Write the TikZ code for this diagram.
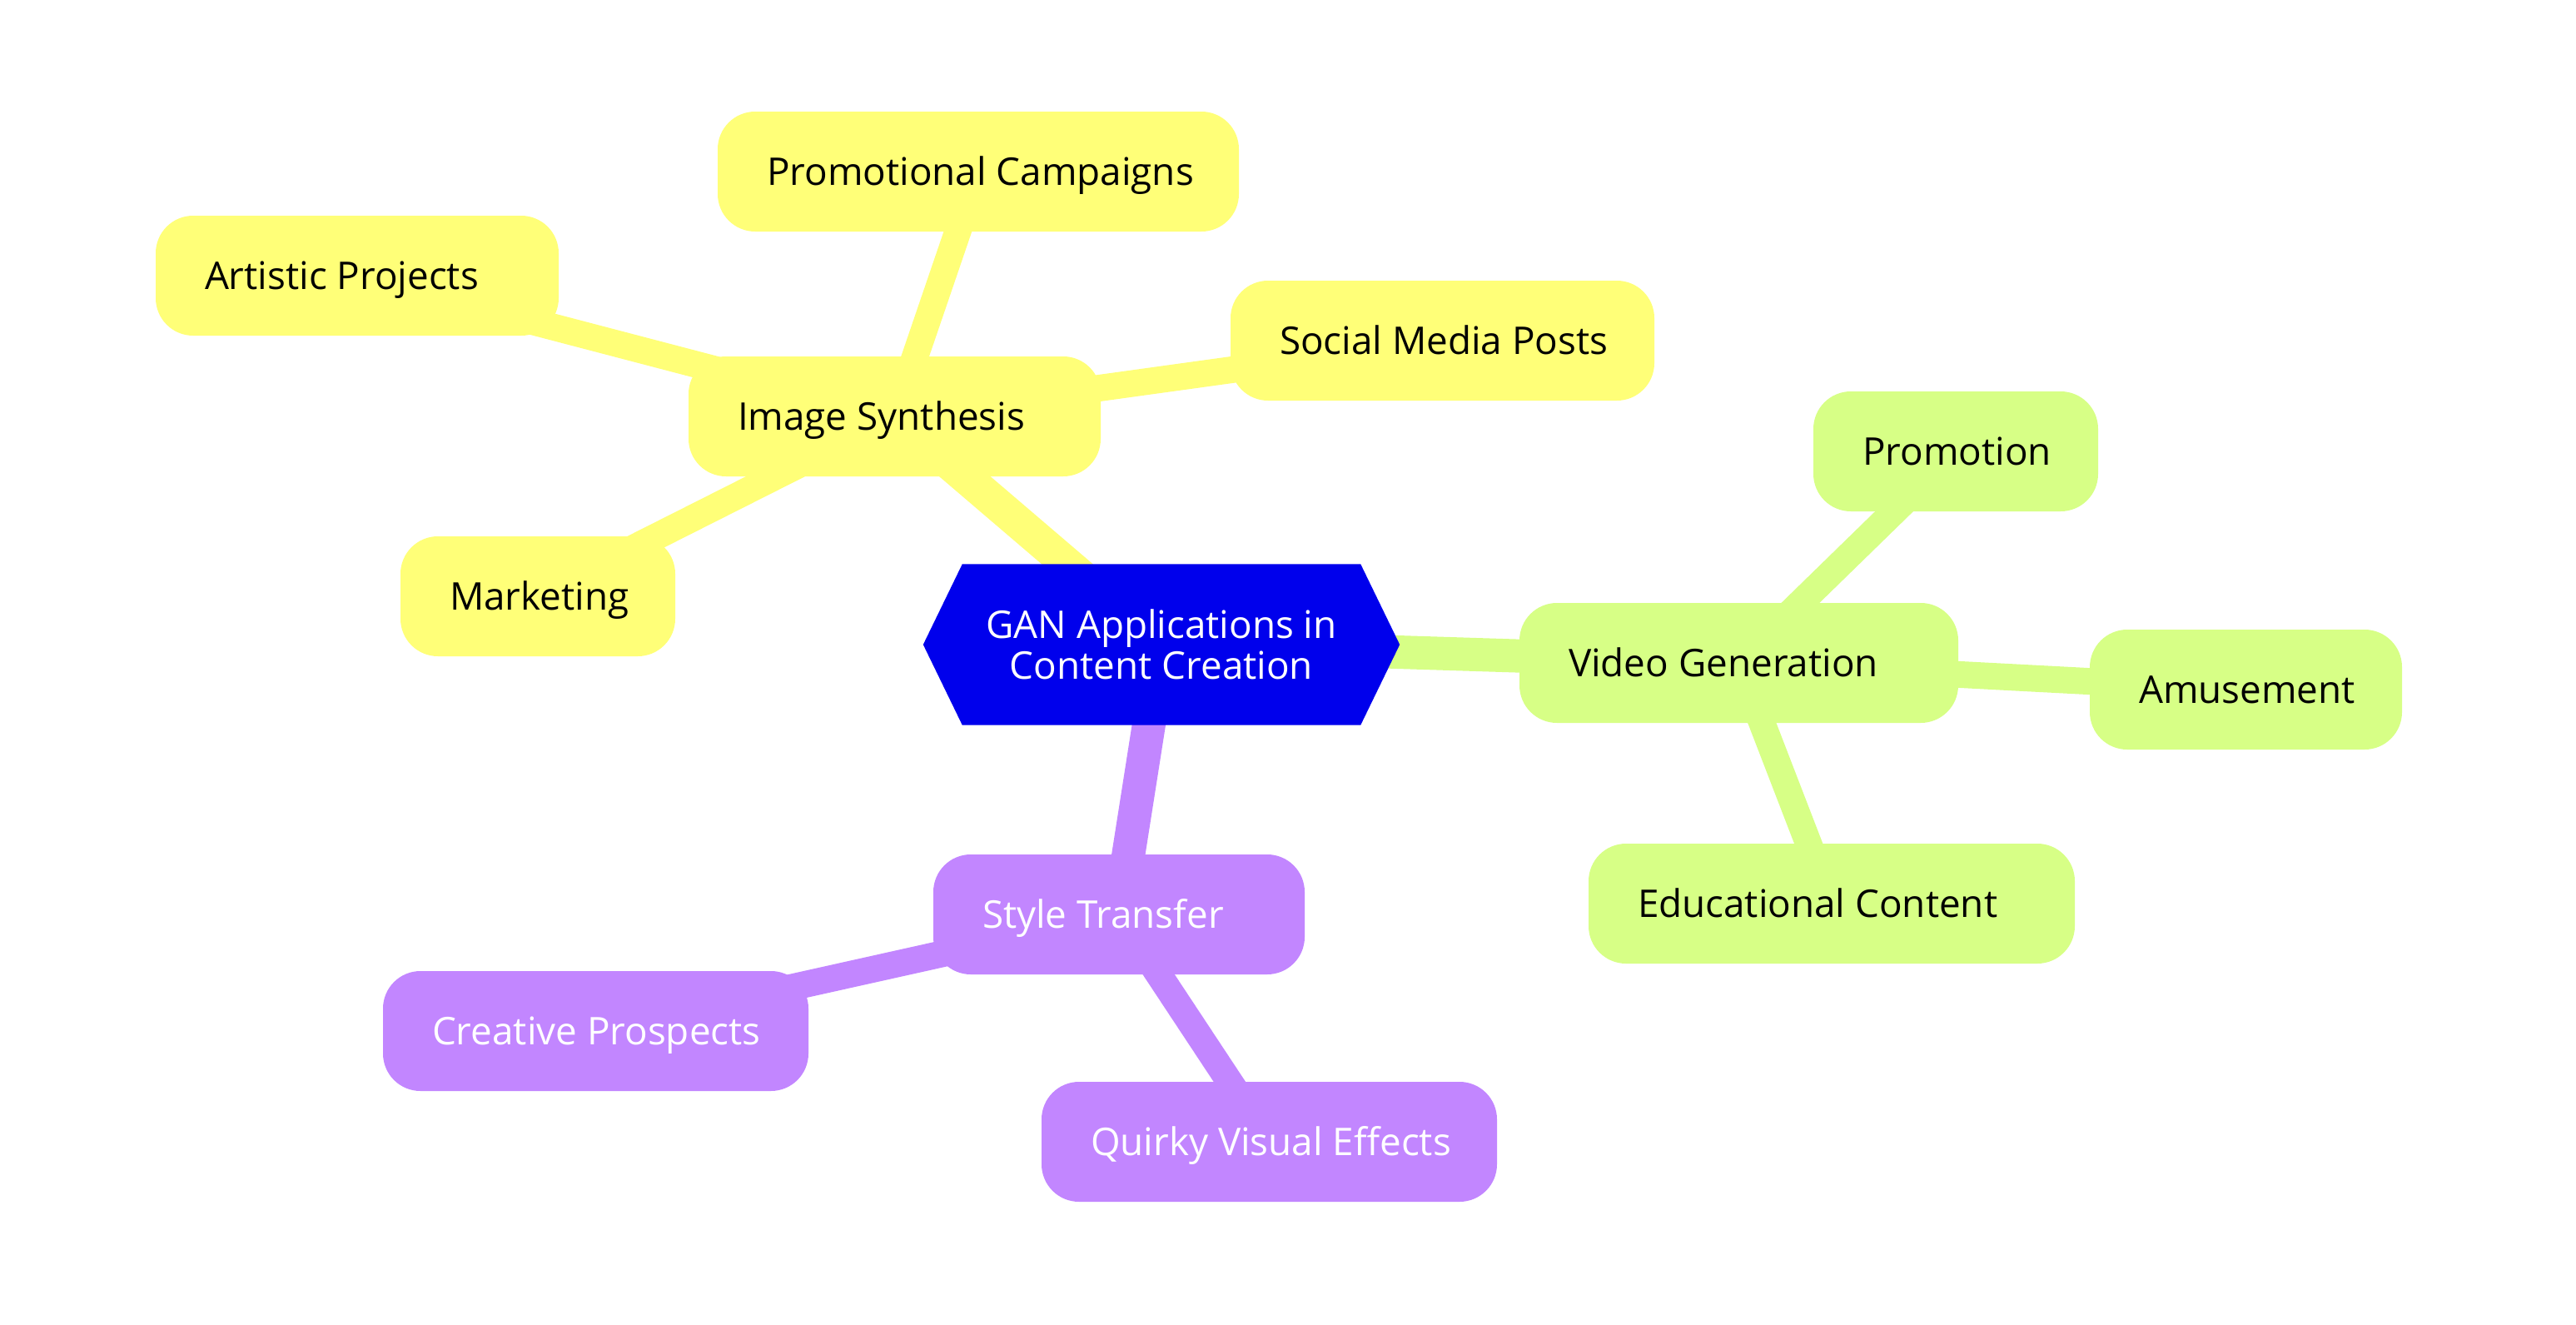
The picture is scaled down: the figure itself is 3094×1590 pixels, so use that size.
\documentclass[tikz,border=0pt]{standalone}
\usepackage{fontspec}
\setmainfont{Open Sans}
\usetikzlibrary{backgrounds,calc}
\definecolor{rootblue}{RGB}{0,0,236}
\definecolor{secyellow}{RGB}{255,255,120}
\definecolor{secgreen}{RGB}{215,255,134}
\definecolor{secpurple}{RGB}{194,134,255}
\newcommand{\lbx}[2]{\makebox[#1pt][l]{#2}}
\begin{document}
\begin{tikzpicture}[x=1pt,y=-1pt,
  mmnode/.style={rounded corners=45pt, minimum height=144pt, inner xsep=59pt, inner ysep=0pt,
    text height=33pt, text depth=0pt, font={\fontsize{45.8}{49}\selectfont}},
  ynode/.style={mmnode, fill=secyellow, text=black},
  gnode/.style={mmnode, fill=secgreen, text=black},
  pnode/.style={mmnode, fill=secpurple, text=white},
  mainedge/.style={line width=40pt},
  leafedge/.style={line width=32pt},
]
\useasboundingbox (0,0) rectangle (3094,1590);

\node[font={\fontsize{45.8}{49}\selectfont}, text=white, align=center,
      minimum width=572pt, minimum height=193pt, inner sep=0pt] (root) at (1395,774)
      {GAN Applications in\\Content Creation};

% Image Synthesis section
\node[ynode] (is)  at (1074.5,500) {\lbx{377}{Image Synthesis}};
\node[ynode] (pc)  at (1175,206)   {\lbx{508}{Promotional Campaigns}};
\node[ynode] (ap)  at (429,331)    {\lbx{366}{Artistic Projects}};
\node[ynode] (smp) at (1732.5,409) {\lbx{391}{Social Media Posts}};
\node[ynode] (mk)  at (646,716)    {\lbx{212}{Marketing}};

% Video Generation section
\node[gnode] (vg) at (2088.5,796) {\lbx{409}{Video Generation}};
\node[gnode] (pr) at (2349,542)   {\lbx{224}{Promotion}};
\node[gnode] (am) at (2697.5,828) {\lbx{257}{Amusement}};
\node[gnode] (ec) at (2200,1085)  {\lbx{466}{Educational Content}};

% Style Transfer section
\node[pnode] (st) at (1344,1098)   {\lbx{328}{Style Transfer}};
\node[pnode] (cp) at (715.5,1238)  {\lbx{393}{Creative Prospects}};
\node[pnode] (qv) at (1524.5,1371) {\lbx{429}{Quirky Visual Effects}};

\begin{scope}[on background layer]
  \draw[secyellow, mainedge] (root.center) -- (is.center);
  \draw[secyellow, leafedge] (is.center) -- (pc.center);
  \draw[secyellow, leafedge] (is.center) -- (ap.center);
  \draw[secyellow, leafedge] (is.center) -- (smp.center);
  \draw[secyellow, leafedge] (is.center) -- (mk.center);
  \draw[secgreen, mainedge] (root.center) -- (vg.center);
  \draw[secgreen, leafedge] (vg.center) -- (pr.center);
  \draw[secgreen, leafedge] (vg.center) -- (am.center);
  \draw[secgreen, leafedge] (vg.center) -- (ec.center);
  \draw[secpurple, mainedge] (root.center) -- (st.center);
  \draw[secpurple, leafedge] (st.center) -- (cp.center);
  \draw[secpurple, leafedge] (st.center) -- (qv.center);
  \fill[rootblue] (root.west) -- ($(root.north west)+(47,0)$) -- ($(root.north east)+(-47,0)$)
     -- (root.east) -- ($(root.south east)+(-47,0)$) -- ($(root.south west)+(47,0)$) -- cycle;
\end{scope}
\end{tikzpicture}
\end{document}
